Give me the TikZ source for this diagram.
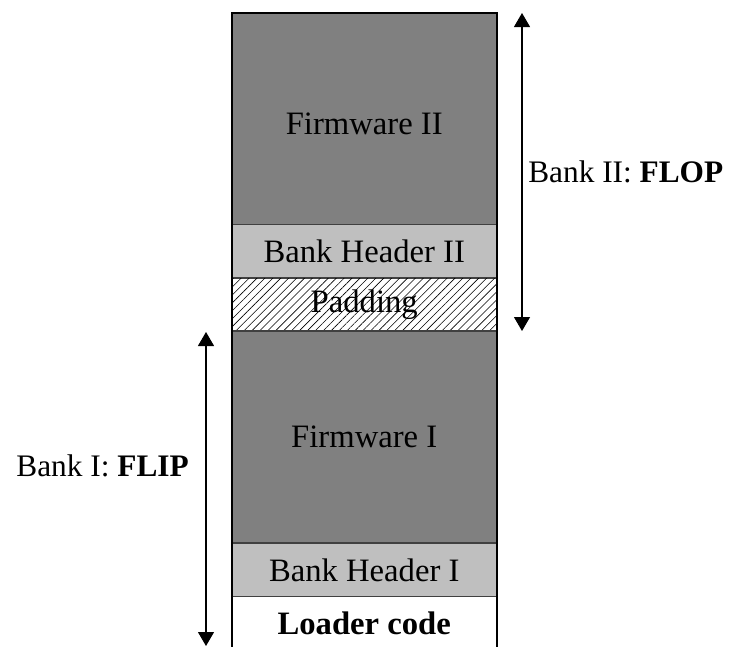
\documentclass[tikz,border=0pt]{standalone}
\usepackage{fontspec}
\setmainfont{Liberation Serif}
\usetikzlibrary{arrows.meta,patterns.meta}
\tikzset{
  px/.style={x=0.75pt,y=-0.75pt},
  bigtext/.style={font=\fontsize{24.5}{28}\selectfont},
  region/.style={draw=black!75,line width=0.8pt,inner sep=0pt,minimum width=199.1pt,bigtext},
  firmware/.style={region,fill=black!50,minimum height=159pt},
  header/.style={region,fill=black!25,minimum height=39.9pt},
  padbox/.style={region,fill=white,minimum height=39.75pt,
    postaction={pattern={Lines[angle=45,distance=4.2pt,line width=0.45pt]}}},
  span/.style={line width=0.8pt,{Triangle[width=12pt,length=10.5pt]}-{Triangle[width=12pt,length=10.5pt]}},
  banklabel/.style={font=\fontsize{23.5}{28}\selectfont,inner sep=0pt}
}
\begin{document}
\begin{tikzpicture}[px]
\useasboundingbox (0,0) rectangle (730,646);
% memory regions, top to bottom
\node[firmware] (fw2) at (364.25,119) {};
\node[bigtext,inner sep=0pt] (fw2txt) at (364.25,124) {Firmware II};
\node[header]   (bh2) at (364.25,251.5) {Bank Header II};
\node[padbox]   (pad) at (364.25,304.5) {};
\node[inner sep=0pt,bigtext] (padtxt) at (pad.center) {Padding};
\node[firmware] (fw1) at (364.25,437) {Firmware I};
\node[header]   (bh1) at (364.25,570) {Bank Header I};
\node[region,draw=none,minimum height=53pt] (ldr) at (364.25,623) {\bfseries Loader code};
% outer frame of the memory map
\draw[line width=1.5pt] (231.5,660) -- (231.5,13) -- (497,13) -- (497,660);
% bank extents
\coordinate (t2) at (522,13);
\coordinate (b2) at (522,331);
\coordinate (t1) at (206,332);
\coordinate (b1) at (206,646);
\draw[span] (t2) -- (b2);
\draw[span] (t1) -- (b1);
\node[banklabel,anchor=west] (l2) at (528,172) {Bank II: \textbf{FLOP}};
\node[banklabel,anchor=east] (l1) at (189,466) {Bank I: \textbf{FLIP}};
\end{tikzpicture}
\end{document}
